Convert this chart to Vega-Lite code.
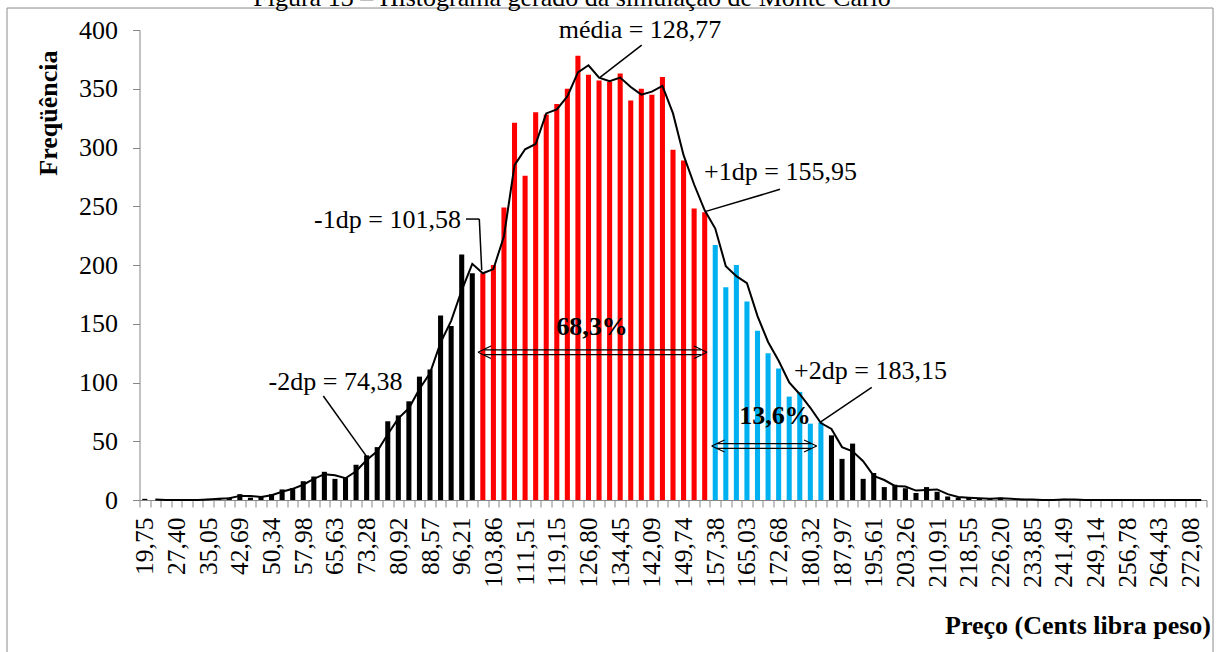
{
  "$schema": "https://vega.github.io/schema/vega-lite/v6.json",
  "width": 1067,
  "height": 470,
  "autosize": {"type": "none"},
  "padding": {"left": 139.5, "top": 30, "right": 10, "bottom": 152},
  "background": "white",
  "config": {"view": {"stroke": null}, "font": "Liberation Serif", "axis": {"grid": false}},
  "datasets": {
    "hist": [
      {"classe":"19,75","freq":1,"grupo":"preto","mm":null},
      {"classe":"22,30","freq":0,"grupo":"preto","mm":0.5},
      {"classe":"24,85","freq":0,"grupo":"preto","mm":0},
      {"classe":"27,40","freq":0,"grupo":"preto","mm":0},
      {"classe":"29,95","freq":0,"grupo":"preto","mm":0},
      {"classe":"32,49","freq":0,"grupo":"preto","mm":0},
      {"classe":"35,05","freq":1,"grupo":"preto","mm":0.5},
      {"classe":"37,59","freq":1,"grupo":"preto","mm":1},
      {"classe":"40,14","freq":2,"grupo":"preto","mm":1.5},
      {"classe":"42,69","freq":5,"grupo":"preto","mm":3.5},
      {"classe":"45,24","freq":2,"grupo":"preto","mm":3.5},
      {"classe":"47,79","freq":3,"grupo":"preto","mm":2.5},
      {"classe":"50,34","freq":5,"grupo":"preto","mm":4},
      {"classe":"52,88","freq":9,"grupo":"preto","mm":7},
      {"classe":"55,43","freq":10,"grupo":"preto","mm":9.5},
      {"classe":"57,98","freq":16,"grupo":"preto","mm":13},
      {"classe":"60,53","freq":20,"grupo":"preto","mm":18},
      {"classe":"63,08","freq":24,"grupo":"preto","mm":22},
      {"classe":"65,63","freq":18,"grupo":"preto","mm":21},
      {"classe":"68,18","freq":19,"grupo":"preto","mm":18.5},
      {"classe":"70,73","freq":30,"grupo":"preto","mm":24.5},
      {"classe":"73,28","freq":38,"grupo":"preto","mm":34},
      {"classe":"75,82","freq":45,"grupo":"preto","mm":41.5},
      {"classe":"78,37","freq":67,"grupo":"preto","mm":56},
      {"classe":"80,92","freq":72,"grupo":"preto","mm":69.5},
      {"classe":"83,47","freq":84,"grupo":"preto","mm":78},
      {"classe":"86,02","freq":105,"grupo":"preto","mm":94.5},
      {"classe":"88,57","freq":111,"grupo":"preto","mm":108},
      {"classe":"91,12","freq":157,"grupo":"preto","mm":134},
      {"classe":"93,66","freq":148,"grupo":"preto","mm":152.5},
      {"classe":"96,21","freq":209,"grupo":"preto","mm":178.5},
      {"classe":"98,76","freq":193,"grupo":"preto","mm":201},
      {"classe":"101,31","freq":193,"grupo":"vermelho","mm":193},
      {"classe":"103,86","freq":200,"grupo":"vermelho","mm":196.5},
      {"classe":"106,41","freq":249,"grupo":"vermelho","mm":224.5},
      {"classe":"108,96","freq":321,"grupo":"vermelho","mm":285},
      {"classe":"111,51","freq":276,"grupo":"vermelho","mm":298.5},
      {"classe":"114,06","freq":330,"grupo":"vermelho","mm":303},
      {"classe":"116,60","freq":328,"grupo":"vermelho","mm":329},
      {"classe":"119,15","freq":337,"grupo":"vermelho","mm":332.5},
      {"classe":"121,70","freq":350,"grupo":"vermelho","mm":343.5},
      {"classe":"124,25","freq":378,"grupo":"vermelho","mm":364},
      {"classe":"126,80","freq":362,"grupo":"vermelho","mm":370},
      {"classe":"129,35","freq":357,"grupo":"vermelho","mm":359.5},
      {"classe":"131,90","freq":356,"grupo":"vermelho","mm":356.5},
      {"classe":"134,45","freq":363,"grupo":"vermelho","mm":359.5},
      {"classe":"136,99","freq":340,"grupo":"vermelho","mm":351.5},
      {"classe":"139,54","freq":350,"grupo":"vermelho","mm":345},
      {"classe":"142,09","freq":345,"grupo":"vermelho","mm":347.5},
      {"classe":"144,64","freq":360,"grupo":"vermelho","mm":352.5},
      {"classe":"147,19","freq":298,"grupo":"vermelho","mm":329},
      {"classe":"149,74","freq":289,"grupo":"vermelho","mm":293.5},
      {"classe":"152,29","freq":248,"grupo":"vermelho","mm":268.5},
      {"classe":"154,84","freq":245,"grupo":"vermelho","mm":246.5},
      {"classe":"157,38","freq":217,"grupo":"azul","mm":231},
      {"classe":"159,93","freq":181,"grupo":"azul","mm":199},
      {"classe":"162,48","freq":200,"grupo":"azul","mm":190.5},
      {"classe":"165,03","freq":169,"grupo":"azul","mm":184.5},
      {"classe":"167,58","freq":144,"grupo":"azul","mm":156.5},
      {"classe":"170,13","freq":125,"grupo":"azul","mm":134.5},
      {"classe":"172,68","freq":112,"grupo":"azul","mm":118.5},
      {"classe":"175,23","freq":88,"grupo":"azul","mm":100},
      {"classe":"177,77","freq":92,"grupo":"azul","mm":90},
      {"classe":"180,32","freq":65,"grupo":"azul","mm":78.5},
      {"classe":"182,87","freq":66,"grupo":"azul","mm":65.5},
      {"classe":"185,42","freq":55,"grupo":"preto","mm":60.5},
      {"classe":"187,97","freq":35,"grupo":"preto","mm":45},
      {"classe":"190,52","freq":48,"grupo":"preto","mm":41.5},
      {"classe":"193,07","freq":18,"grupo":"preto","mm":33},
      {"classe":"195,61","freq":23,"grupo":"preto","mm":20.5},
      {"classe":"198,17","freq":11,"grupo":"preto","mm":17},
      {"classe":"200,71","freq":13,"grupo":"preto","mm":12},
      {"classe":"203,26","freq":10,"grupo":"preto","mm":11.5},
      {"classe":"205,81","freq":6,"grupo":"preto","mm":8},
      {"classe":"208,36","freq":11,"grupo":"preto","mm":8.5},
      {"classe":"210,91","freq":7,"grupo":"preto","mm":9},
      {"classe":"213,46","freq":3,"grupo":"preto","mm":5},
      {"classe":"216,01","freq":2,"grupo":"preto","mm":2.5},
      {"classe":"218,55","freq":2,"grupo":"preto","mm":2},
      {"classe":"221,10","freq":1,"grupo":"preto","mm":1.5},
      {"classe":"223,65","freq":1,"grupo":"preto","mm":1},
      {"classe":"226,20","freq":2,"grupo":"preto","mm":1.5},
      {"classe":"228,75","freq":0,"grupo":"preto","mm":1},
      {"classe":"231,30","freq":1,"grupo":"preto","mm":0.5},
      {"classe":"233,85","freq":0,"grupo":"preto","mm":0.5},
      {"classe":"236,40","freq":0,"grupo":"preto","mm":0},
      {"classe":"238,95","freq":0,"grupo":"preto","mm":0},
      {"classe":"241,49","freq":1,"grupo":"preto","mm":0.5},
      {"classe":"244,04","freq":0,"grupo":"preto","mm":0.5},
      {"classe":"246,59","freq":0,"grupo":"preto","mm":0},
      {"classe":"249,14","freq":0,"grupo":"preto","mm":0},
      {"classe":"251,69","freq":0,"grupo":"preto","mm":0},
      {"classe":"254,24","freq":0,"grupo":"preto","mm":0},
      {"classe":"256,78","freq":0,"grupo":"preto","mm":0},
      {"classe":"259,34","freq":0,"grupo":"preto","mm":0},
      {"classe":"261,88","freq":0,"grupo":"preto","mm":0},
      {"classe":"264,43","freq":0,"grupo":"preto","mm":0},
      {"classe":"266,98","freq":0,"grupo":"preto","mm":0},
      {"classe":"269,53","freq":0,"grupo":"preto","mm":0},
      {"classe":"272,08","freq":0,"grupo":"preto","mm":0},
      {"classe":"274,63","freq":0,"grupo":"preto","mm":0}
    ],
    "textos": [
      {"texto":"média = 128,77","p":139.23,"v":393.2},
      {"texto":"+1dp = 155,95","p":173.13,"v":272.3},
      {"texto":"-1dp = 101,58","p":78.31,"v":231.5},
      {"texto":"-2dp = 74,38","p":65.76,"v":93.6},
      {"texto":"+2dp = 183,15","p":194.84,"v":103.0},
      {"texto":"Figura 13 – Histograma gerado da simulação de Monte Carlo","p":122.83,"v":420.4}
    ],
    "negritos": [
      {"texto":"68,3%","p":127.65,"v":140.4},
      {"texto":"13,6%","p":171.8,"v":64.7}
    ],
    "chamadas": [
      {"p1":129.58,"v1":359.7,"p2":139.64,"v2":387.2},
      {"p1":154.92,"v1":245.4,"p2":173.01,"v2":264.4},
      {"p1":97.25,"v1":239.1,"p2":100.46,"v2":239.1},
      {"p1":100.46,"v1":239.1,"p2":101.04,"v2":195.7},
      {"p1":62.82,"v1":88.5,"p2":73.29,"v2":36.9},
      {"p1":195.14,"v1":95.9,"p2":182.66,"v2":66.1}
    ],
    "setas": [
      {"p1":101.6,"v1":127.7,"p2":153.95,"v2":127.7},
      {"p1":101.6,"v1":123.8,"p2":153.95,"v2":123.8},
      {"p1":100.15,"v1":125.8,"p2":103.28,"v2":131.1},
      {"p1":100.15,"v1":125.8,"p2":103.28,"v2":120.4},
      {"p1":155.4,"v1":125.8,"p2":152.26,"v2":131.1},
      {"p1":155.4,"v1":125.8,"p2":152.26,"v2":120.4},
      {"p1":157.81,"v1":47.9,"p2":180.49,"v2":47.9},
      {"p1":157.81,"v1":44.0,"p2":180.49,"v2":44.0},
      {"p1":156.53,"v1":46.0,"p2":159.62,"v2":51.1},
      {"p1":156.53,"v1":46.0,"p2":159.62,"v2":40.9},
      {"p1":181.86,"v1":46.0,"p2":178.8,"v2":51.1},
      {"p1":181.86,"v1":46.0,"p2":178.8,"v2":40.9}
    ],
    "moldura": [
      {"p1":-13.49,"v1":418.7,"p2":277.48,"v2":-170}
    ]
  },
  "layer": [
    {
      "data": {"name": "hist"},
      "layer": [
        {
          "mark": {"type": "bar", "width": {"band": 0.48}},
          "encoding": {
            "x": {
              "field": "classe", "type": "nominal", "sort": null,
              "scale": {"paddingInner": 0, "paddingOuter": 0},
              "axis": {
                "title": "Preço (Cents libra peso)",
                "labelAngle": 270,
                "labelFont": "Liberation Serif", "labelFontSize": 25.5, "labelColor": "#000000",
                "labelExpr": "indexof(['19,75','27,40','35,05','42,69','50,34','57,98','65,63','73,28','80,92','88,57','96,21','103,86','111,51','119,15','126,80','134,45','142,09','149,74','157,38','165,03','172,68','180,32','187,97','195,61','203,26','210,91','218,55','226,20','233,85','241,49','249,14','256,78','264,43','272,08'], datum.value) >= 0 ? datum.value : ''",
                "labelPadding": 10, "labelOverlap": false,
                "tickBand": "extent", "tickSize": 7, "tickColor": "#868686", "domainColor": "#868686",
                "titleFont": "Liberation Serif", "titleFontSize": 26, "titleFontWeight": "bold", "titleColor": "#000000",
                "titleAnchor": "end", "titleAlign": "right", "titleX": 1071, "titleY": 133, "titleBaseline": "alphabetic"
              }
            },
            "y": {
              "field": "freq", "type": "quantitative", "stack": null,
              "scale": {"domain": [0, 400], "nice": false},
              "axis": {
                "title": "Freqüência",
                "values": [0, 50, 100, 150, 200, 250, 300, 350, 400],
                "labelFont": "Liberation Serif", "labelFontSize": 26, "labelColor": "#000000",
                "labelPadding": 15, "tickSize": 7, "tickColor": "#868686", "domainColor": "#868686",
                "titleFont": "Liberation Serif", "titleFontSize": 26, "titleFontWeight": "bold", "titleColor": "#000000",
                "titleAngle": 270, "titleAlign": "right", "titleBaseline": "middle", "titleX": -91, "titleY": 20
              }
            },
            "color": {
              "field": "grupo", "type": "nominal",
              "scale": {"domain": ["preto", "vermelho", "azul"], "range": ["#000000", "#FF0000", "#00B0F0"]},
              "legend": null
            }
          }
        },
        {
          "mark": {"type": "line", "color": "#000000", "strokeWidth": 2},
          "encoding": {
            "x": {"field": "classe", "type": "nominal", "sort": null},
            "y": {"field": "mm", "type": "quantitative", "scale": {"domain": [0, 400], "nice": false}}
          }
        }
      ]
    },
    {
      "layer": [
        {
          "data": {"name": "moldura"},
          "mark": {"type": "rect", "fillOpacity": 0, "stroke": "#8c8c8c", "strokeWidth": 1},
          "encoding": {
            "x": {"field": "p1", "type": "quantitative", "scale": {"domain": [18.4756, 275.907], "nice": false, "zero": false}, "axis": null},
            "x2": {"field": "p2"},
            "y": {"field": "v1", "type": "quantitative", "scale": {"domain": [0, 400], "nice": false}},
            "y2": {"field": "v2"}
          }
        },
        {
          "data": {"name": "chamadas"},
          "mark": {"type": "rule", "color": "#000000", "strokeWidth": 1.5},
          "encoding": {
            "x": {"field": "p1", "type": "quantitative", "scale": {"domain": [18.4756, 275.907], "nice": false, "zero": false}, "axis": null},
            "x2": {"field": "p2"},
            "y": {"field": "v1", "type": "quantitative", "scale": {"domain": [0, 400], "nice": false}},
            "y2": {"field": "v2"}
          }
        },
        {
          "data": {"name": "setas"},
          "mark": {"type": "rule", "color": "#000000", "strokeWidth": 1.2},
          "encoding": {
            "x": {"field": "p1", "type": "quantitative", "scale": {"domain": [18.4756, 275.907], "nice": false, "zero": false}, "axis": null},
            "x2": {"field": "p2"},
            "y": {"field": "v1", "type": "quantitative", "scale": {"domain": [0, 400], "nice": false}},
            "y2": {"field": "v2"}
          }
        },
        {
          "data": {"name": "textos"},
          "mark": {"type": "text", "font": "Liberation Serif", "fontSize": 26, "align": "center", "baseline": "alphabetic", "color": "#000000"},
          "encoding": {
            "x": {"field": "p", "type": "quantitative", "scale": {"domain": [18.4756, 275.907], "nice": false, "zero": false}, "axis": null},
            "y": {"field": "v", "type": "quantitative", "scale": {"domain": [0, 400], "nice": false}},
            "text": {"field": "texto"}
          }
        },
        {
          "data": {"name": "negritos"},
          "mark": {"type": "text", "font": "Liberation Serif", "fontSize": 26, "fontWeight": "bold", "align": "center", "baseline": "alphabetic", "color": "#000000"},
          "encoding": {
            "x": {"field": "p", "type": "quantitative", "scale": {"domain": [18.4756, 275.907], "nice": false, "zero": false}, "axis": null},
            "y": {"field": "v", "type": "quantitative", "scale": {"domain": [0, 400], "nice": false}},
            "text": {"field": "texto"}
          }
        }
      ]
    }
  ],
  "resolve": {"scale": {"x": "independent"}}
}
